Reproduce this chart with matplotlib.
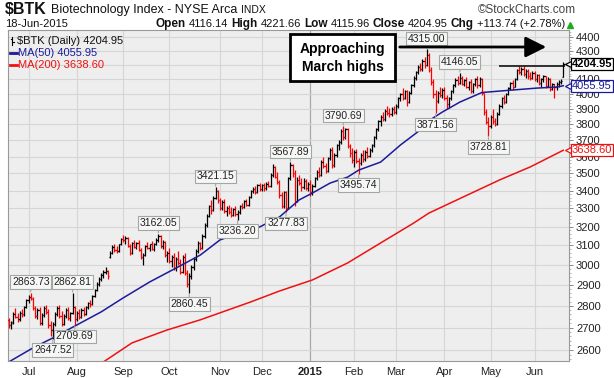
import matplotlib
matplotlib.use("Agg")
import matplotlib.pyplot as plt
import numpy as np
import pandas as pd
from matplotlib.lines import Line2D
from matplotlib.patches import FancyArrowPatch, Rectangle
from matplotlib.ticker import FixedLocator, NullFormatter
from matplotlib.transforms import blended_transform_factory

plt.rcParams["font.family"] = ["Liberation Sans", "DejaVu Sans"]

# trading calendar (Jun 18 2014 - Jun 18 2015)
HOLIDAYS = ["2014-07-04", "2014-09-01", "2014-11-27", "2014-12-25", "2015-01-01",
            "2015-01-19", "2015-02-16", "2015-04-03", "2015-05-25"]

# daily OHLC, one row per month
opens = [
    2735, 2712, 2725, 2760, 2750, 2738, 2765, 2760, 2795,
    2828, 2842, 2835, 2790, 2752, 2780, 2720, 2758, 2792, 2770, 2712, 2690, 2715, 2762, 2790, 2752, 2718, 2755, 2780, 2745, 2765, 2795,
    2740, 2768, 2750, 2782, 2762, 2795, 2815, 2810, 2845, 2875, 2905, 2932, 2950, 2965, 2970, 3040, 3060, 3090, 3075, 3070, 3105,
    3135, 3128, 3140, 3098, 3060, 3112, 3092, 3115, 3078, 3040, 3050, 3095, 3085, 3105, 3080, 3110, 3130, 3150, 3095, 3120, 3050,
    3060, 3020, 3040, 2985, 3030, 3010, 2965, 3040, 2960, 2905, 2945, 2990, 3030, 3070, 3115, 3085, 3150, 3210, 3260, 3310, 3290, 3360, 3400,
    3345, 3300, 3335, 3285, 3300, 3280, 3262, 3295, 3270, 3280, 3312, 3305, 3338, 3320, 3362, 3395, 3410, 3392, 3430,
    3410, 3430, 3415, 3440, 3425, 3490, 3540, 3480, 3450, 3372, 3315, 3390, 3300, 3470, 3550, 3500, 3340, 3460, 3445, 3420, 3455, 3415,
    3440, 3390, 3425, 3470, 3510, 3490, 3570, 3545, 3515, 3590, 3640, 3550, 3610, 3670, 3690, 3760, 3720, 3770, 3665, 3620,
    3580, 3630, 3575, 3560, 3610, 3585, 3630, 3605, 3640, 3670, 3720, 3770, 3820, 3845, 3835, 3890, 3875, 3865, 3900,
    3880, 3920, 3970, 4000, 3975, 4020, 3945, 4010, 4060, 4110, 4150, 4185, 4170, 4230, 4200, 4275, 4165, 4080, 4000, 3950, 4010, 3995,
    4030, 3975, 3935, 3970, 4020, 4060, 4095, 4075, 4110, 4070, 4095, 4050, 4080, 4020, 4065, 4100, 4060, 4105, 4005, 3880, 3815,
    3790, 3850, 3820, 3800, 3870, 3920, 3970, 3945, 4000, 4040, 4075, 4050, 4100, 4165, 4150, 4175, 4135, 4160, 4120, 4110,
    4145, 4100, 4130, 4075, 4100, 4120, 4055, 4105, 4035, 4065, 4045, 4070, 4085, 4116.14,
]
highs = [
    2745, 2730, 2770, 2790, 2768, 2775, 2785, 2800, 2835,
    2850, 2863.73, 2840, 2800, 2790, 2795, 2765, 2800, 2805, 2785, 2730, 2725, 2770, 2800, 2805, 2775, 2760, 2790, 2795, 2770, 2862.81, 2800,
    2775, 2785, 2790, 2795, 2800, 2820, 2830, 2850, 2880, 2915, 2940, 2960, 2975, 2992, 2975, 3070, 3100, 3105, 3095, 3110, 3140,
    3155, 3150, 3145, 3105, 3120, 3130, 3120, 3130, 3085, 3060, 3100, 3120, 3110, 3125, 3115, 3140, 3162.05, 3155, 3130, 3125, 3070,
    3085, 3050, 3060, 3040, 3070, 3030, 3050, 3060, 2975, 2960, 3000, 3040, 3080, 3125, 3120, 3160, 3220, 3270, 3320, 3345, 3370, 3421.15, 3405,
    3360, 3345, 3350, 3310, 3320, 3305, 3300, 3310, 3290, 3320, 3330, 3345, 3350, 3370, 3405, 3420, 3425, 3440, 3445,
    3440, 3445, 3450, 3455, 3500, 3555, 3545, 3510, 3460, 3390, 3400, 3400, 3480, 3567.89, 3555, 3520, 3480, 3490, 3475, 3470, 3465, 3450,
    3460, 3440, 3480, 3520, 3540, 3580, 3600, 3560, 3600, 3650, 3660, 3620, 3680, 3700, 3770, 3790.69, 3780, 3775, 3680, 3650,
    3640, 3645, 3590, 3620, 3640, 3640, 3660, 3650, 3680, 3730, 3780, 3830, 3860, 3880, 3900, 3920, 3905, 3915, 3920,
    3930, 3980, 4010, 4040, 4030, 4030, 4020, 4070, 4120, 4160, 4200, 4215, 4240, 4260, 4315.00, 4285, 4185, 4100, 4030, 4020, 4050, 4040,
    4045, 3990, 3980, 4030, 4070, 4110, 4120, 4146.05, 4125, 4105, 4115, 4090, 4100, 4075, 4110, 4120, 4115, 4110, 4010, 3900, 3850,
    3860, 3900, 3840, 3880, 3930, 3980, 3990, 4010, 4050, 4085, 4095, 4110, 4175, 4190, 4185, 4190, 4170, 4175, 4150, 4160,
    4160, 4140, 4135, 4110, 4130, 4125, 4115, 4110, 4075, 4070, 4080, 4095, 4100, 4221.66,
]
lows = [
    2700, 2695, 2718, 2745, 2725, 2730, 2748, 2752, 2790,
    2815, 2830, 2780, 2745, 2740, 2710, 2712, 2750, 2760, 2700, 2660, 2647.52, 2705, 2752, 2745, 2705, 2712, 2745, 2735, 2730, 2760, 2709.69,
    2730, 2740, 2745, 2755, 2758, 2785, 2795, 2805, 2840, 2870, 2895, 2920, 2935, 2955, 2930, 3035, 3055, 3065, 3060, 3065, 3100,
    3120, 3110, 3090, 3050, 3055, 3085, 3080, 3070, 3030, 3000, 3045, 3080, 3070, 3075, 3070, 3100, 3120, 3085, 3080, 3040, 3015,
    3010, 2990, 2975, 2970, 3000, 2955, 2960, 2950, 2890, 2860.45, 2930, 2975, 3020, 3060, 3075, 3080, 3140, 3200, 3250, 3270, 3285, 3350, 3330,
    3290, 3290, 3275, 3255, 3270, 3250, 3255, 3260, 3236.20, 3270, 3295, 3300, 3310, 3315, 3355, 3385, 3380, 3385, 3400,
    3395, 3400, 3405, 3420, 3420, 3480, 3470, 3440, 3360, 3300, 3300, 3277.83, 3295, 3460, 3480, 3315, 3335, 3430, 3400, 3410, 3405, 3400,
    3370, 3375, 3420, 3460, 3480, 3485, 3530, 3500, 3510, 3580, 3530, 3540, 3600, 3640, 3680, 3700, 3710, 3650, 3600, 3560,
    3540, 3560, 3495.74, 3550, 3570, 3575, 3590, 3595, 3625, 3660, 3710, 3760, 3790, 3820, 3825, 3860, 3850, 3855, 3870,
    3870, 3910, 3955, 3960, 3965, 3920, 3940, 4000, 4050, 4095, 4135, 4160, 4160, 4180, 4190, 4150, 4060, 3975, 3871.56, 3940, 3980, 3975,
    3960, 3900, 3910, 3960, 4010, 4045, 4060, 4070, 4060, 4055, 4040, 4030, 4005, 4010, 4055, 4040, 4050, 3990, 3860, 3800, 3728.81,
    3780, 3800, 3790, 3795, 3860, 3905, 3930, 3940, 3990, 4030, 4030, 4045, 4095, 4140, 4130, 4120, 4110, 4105, 4095, 4100,
    4090, 4085, 4060, 4050, 4085, 4040, 4050, 4020, 4025, 3975, 4030, 4050, 4065, 4115.96,
]
closes = [
    2712, 2722, 2760, 2750, 2735, 2765, 2758, 2795, 2828,
    2842, 2838, 2790, 2752, 2780, 2720, 2758, 2792, 2770, 2712, 2690, 2715, 2762, 2790, 2752, 2718, 2755, 2780, 2745, 2765, 2795, 2740,
    2768, 2750, 2782, 2762, 2795, 2815, 2810, 2845, 2875, 2905, 2932, 2950, 2965, 2970, 2945, 3060, 3090, 3075, 3070, 3105, 3135,
    3128, 3140, 3098, 3060, 3112, 3092, 3115, 3078, 3040, 3050, 3095, 3085, 3105, 3080, 3110, 3130, 3150, 3095, 3120, 3050, 3060,
    3020, 3040, 2985, 3030, 3010, 2965, 3040, 2960, 2905, 2945, 2990, 3030, 3070, 3115, 3085, 3150, 3210, 3260, 3310, 3290, 3360, 3400, 3345,
    3300, 3335, 3285, 3300, 3280, 3262, 3295, 3270, 3280, 3312, 3305, 3338, 3320, 3362, 3395, 3410, 3392, 3430, 3410,
    3430, 3415, 3440, 3425, 3490, 3540, 3480, 3450, 3372, 3315, 3390, 3300, 3470, 3550, 3500, 3340, 3460, 3445, 3420, 3455, 3415, 3440,
    3390, 3425, 3470, 3510, 3490, 3570, 3545, 3515, 3590, 3640, 3550, 3610, 3670, 3690, 3760, 3720, 3770, 3665, 3620, 3580,
    3630, 3575, 3560, 3610, 3585, 3630, 3605, 3640, 3670, 3720, 3770, 3820, 3845, 3835, 3890, 3875, 3865, 3900, 3880,
    3920, 3970, 4000, 3975, 4020, 3945, 4010, 4060, 4110, 4150, 4185, 4170, 4230, 4200, 4275, 4165, 4080, 4000, 3950, 4010, 3995, 4030,
    3975, 3935, 3970, 4020, 4060, 4095, 4075, 4110, 4070, 4095, 4050, 4080, 4020, 4065, 4100, 4060, 4105, 4005, 3880, 3815, 3790,
    3850, 3820, 3800, 3870, 3920, 3970, 3945, 4000, 4040, 4075, 4050, 4100, 4165, 4150, 4175, 4135, 4160, 4120, 4110, 4145,
    4100, 4130, 4075, 4100, 4120, 4055, 4105, 4035, 4065, 4045, 4070, 4085, 4091.21, 4204.95,
]

# moving averages, sampled off the chart (bar index, value)
ma50_idx = [0, 11, 20, 31, 42, 52, 64, 77, 87, 96, 105, 114, 123, 132, 138, 146, 154, 159,
            169, 178, 187, 190, 197, 205, 215, 229, 240, 249, 252]
ma50_val = [2548, 2609, 2653, 2712, 2772, 2838, 2915, 2990, 3050, 3129, 3166, 3198, 3252, 3347,
            3386, 3443, 3478, 3519, 3567, 3671, 3765, 3816, 3880, 3946, 4010, 4027, 4040, 4047, 4055.95]
ma200_idx = [43, 56, 72, 87, 110, 123, 138, 154, 169, 184, 191, 223, 237, 252]
ma200_val = [2548, 2631, 2689, 2735, 2819, 2871, 2925, 3010, 3113, 3219, 3274, 3461, 3538, 3638.60]

# labelled swing highs / lows (bar index)
peak_idx = [10, 29, 68, 94, 128, 152, 190, 205]
trough_idx = [20, 30, 82, 104, 126, 159, 194, 218]

W, H = 614, 378
BLUE = "#1b1b9a"
RED = "#ee1111"

dates = pd.bdate_range("2014-06-18", "2015-06-18", freq="C", holidays=HOLIDAYS)
n = len(closes)
x = np.arange(n)
o, h, l, c = (np.asarray(a, dtype=float) for a in (opens, highs, lows, closes))
prev = np.concatenate([[o[0]], c[:-1]])
bar_colors = np.where(c < prev, "#ff0000", "#000000")


def px(xp, yp):
    return xp / W, 1 - yp / H


fig = plt.figure(figsize=(W / 100, H / 100), dpi=100)
left, right, top, bottom = 8, 569, 30, 361
ax = fig.add_axes([left / W, 1 - bottom / H, (right - left) / W, (bottom - top) / H])
ax.set_facecolor("#eeeeee")
ax.set_yscale("log")
ax.set_ylim(2552, 4455)
ax.set_xlim(-0.36, 254.6)
for sp in ax.spines.values():
    sp.set_color("#999999")
    sp.set_linewidth(0.8)

# y axis on the right
ax.yaxis.tick_right()
ax.yaxis.set_major_locator(FixedLocator(np.arange(2600, 4401, 100)))
ax.yaxis.set_major_formatter(plt.FuncFormatter(lambda v, _: f"{v:.0f}"))
ax.yaxis.set_minor_locator(FixedLocator(np.arange(2560, 4455, 20)))
ax.yaxis.set_minor_formatter(NullFormatter())
ax.tick_params(axis="y", which="major", length=3, width=0.7, color="#888888",
               labelsize=8, pad=2, labelcolor="#222222")
ax.tick_params(axis="y", which="minor", length=1.5, width=0.6, color="#aaaaaa")

# month ticks
month_starts = [i for i in range(1, n) if dates[i].month != dates[i - 1].month]
month_labels = ["2015" if dates[i].month == 1 else dates[i].strftime("%b") for i in month_starts]
ax.set_xticks(month_starts)
ax.set_xticklabels(month_labels)
ax.tick_params(axis="x", length=0, labelsize=8, pad=4, labelcolor="#222222")
for lab in ax.get_xticklabels():
    if lab.get_text() == "2015":
        lab.set_fontweight("bold")

ax.grid(axis="y", which="major", color="#d6d6d6", lw=0.8, zorder=0)
for i, lab in zip(month_starts, month_labels):
    ax.axvline(i, color="#a8a8a8" if lab == "2015" else "#d6d6d6", lw=0.9 if lab == "2015" else 0.8, zorder=0)
ax.set_axisbelow(True)

# moving averages
ax.plot(ma200_idx, ma200_val, color=RED, lw=1.1, zorder=2)
ax.plot(ma50_idx, ma50_val, color=BLUE, lw=1.1, zorder=4)

# OHLC bars
ax.vlines(x, l, h, colors=bar_colors, lw=0.9, zorder=3)
ax.hlines(o, x - 0.6, x, colors=bar_colors, lw=0.9, zorder=3)
ax.hlines(c, x, x + 0.6, colors=bar_colors, lw=0.9, zorder=3)

# swing labels
box = dict(boxstyle="square,pad=0.18", fc="#f6f6f6", ec="#9fa99f", lw=0.8)
for i in peak_idx:
    ax.annotate(f"{h[i]:.2f}", xy=(i, h[i]), xytext=(0, 7.5), textcoords="offset points",
                ha="center", va="center", fontsize=7.5, color="#222222", bbox=box, zorder=6,
                arrowprops=dict(arrowstyle="-", color="#9fa99f", lw=0.8, shrinkA=0, shrinkB=0.5))
for i in trough_idx:
    ax.annotate(f"{l[i]:.2f}", xy=(i, l[i]), xytext=(0, -8), textcoords="offset points",
                ha="center", va="center", fontsize=7.5, color="#222222", bbox=box, zorder=6,
                arrowprops=dict(arrowstyle="-", color="#9fa99f", lw=0.8, shrinkA=0, shrinkB=0.5))

# resistance line near the March highs
ax.hlines(4192, 223, 253, colors="black", lw=1.1, zorder=5)

# right-edge value tags
btrans = blended_transform_factory(ax.transAxes, ax.transData)
tags = [(c[-1], "black", "bold"), (ma50_val[-1], BLUE, "normal"), (ma200_val[-1], RED, "normal")]
for val, col, wt in tags:
    ax.plot([1.0], [val], marker="<", ms=6, mfc="white", mec=col, mew=0.9,
            transform=btrans, clip_on=False, zorder=7)
    ax.annotate(f"{val:.2f}", xy=(1.0, val), xycoords=btrans, xytext=(2, 0),
                textcoords="offset points", ha="left", va="center", fontsize=8,
                fontweight=wt, color=col, annotation_clip=False, zorder=8,
                bbox=dict(boxstyle="square,pad=0.1", fc="white", ec=col, lw=0.9))

# legend inside the plot
fig.add_artist(Line2D([12 / W, 12 / W], [1 - 36.5 / H, 1 - 45 / H], color="black", lw=0.8))
fig.add_artist(Line2D([10.5 / W, 12 / W], [1 - 39 / H, 1 - 39 / H], color="black", lw=0.8))
fig.add_artist(Line2D([12 / W, 13.5 / W], [1 - 42 / H, 1 - 42 / H], color="black", lw=0.8))
fig.text(*px(17, 41), f"\\$BTK (Daily) {c[-1]:.2f}", fontsize=8, va="center", color="#111111")
fig.add_artist(Line2D([10 / W, 17 / W], [1 - 53 / H] * 2, color=BLUE, lw=2))
fig.text(*px(18, 53), f"MA(50) {ma50_val[-1]:.2f}", fontsize=8, va="center", color=BLUE)
fig.add_artist(Line2D([10 / W, 17 / W], [1 - 65 / H] * 2, color=RED, lw=2))
fig.text(*px(18, 65), f"MA(200) {ma200_val[-1]:.2f}", fontsize=8, va="center", color=RED)

# callout box and arrow
fig.add_artist(Rectangle(px(290, 81), 105 / W, 47 / H, transform=fig.transFigure,
                         fc="white", ec="black", lw=2, zorder=9))
fig.text(*px(342.5, 49.5), "Approaching", fontsize=10, fontweight="bold", ha="center", va="center", zorder=10)
fig.text(*px(342.5, 66.5), "March highs", fontsize=10, fontweight="bold", ha="center", va="center", zorder=10)
fig.add_artist(FancyArrowPatch(px(397, 47), px(549, 47), transform=fig.transFigure,
                               arrowstyle="-|>,head_length=0.9,head_width=0.45", mutation_scale=14,
                               lw=2, color="black", zorder=9))

# header
renderer = fig.canvas.get_renderer()


def put_pieces(x0, y0, pieces, align="left", gap=4):
    items = []
    for txt, wt, size in pieces:
        t = fig.text(0, 1 - y0 / H, txt, fontsize=size, fontweight=wt, va="center", color="#111111")
        items.append((t, t.get_window_extent(renderer).width))
    total = sum(wd for _, wd in items) + gap * (len(items) - 1)
    cur = x0 - total if align == "right" else x0
    for t, wd in items:
        t.set_x(cur / W)
        cur += wd + gap
    return cur


put_pieces(5, 10, [("\\$BTK", "bold", 11.5), ("Biotechnology Index - NYSE Arca", "normal", 9),
                   ("INDX", "normal", 7.5)], gap=4)
fig.text(*px(576, 10), "\u00a9StockCharts.com", fontsize=8.5, ha="right", va="center", color="#444444")
fig.text(*px(5, 24), dates[-1].strftime("%d-%b-%Y"), fontsize=8, va="center", color="#111111")
chg = c[-1] - c[-2]
put_pieces(565, 24, [("Open", "bold", 8.5), (f"{o[-1]:.2f}", "normal", 8), ("High", "bold", 8.5),
                     (f"{h[-1]:.2f}", "normal", 8), ("Low", "bold", 8.5), (f"{l[-1]:.2f}", "normal", 8),
                     ("Close", "bold", 8.5), (f"{c[-1]:.2f}", "normal", 8), ("Chg", "bold", 8.5),
                     (f"{chg:+.2f} ({chg / c[-2] * 100:+.2f}%)", "normal", 8)], align="right", gap=3)
fig.add_artist(Line2D([570 / W], [1 - 25 / H], marker="^", ms=5, color="#22aa22", lw=0))

fig.savefig("out.png", dpi=100, facecolor="white")
